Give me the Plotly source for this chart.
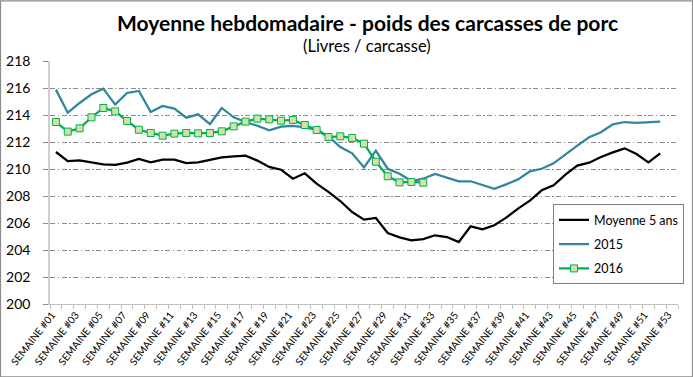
import plotly.graph_objects as go

week_labels = ["SEMAINE #%02d" % i for i in range(1, 54)]
week_pos = list(range(1, 54))

moyenne_5ans = [211.26, 210.59, 210.64, 210.47, 210.35, 210.30, 210.47, 210.74, 210.49, 210.69,
                210.69, 210.44, 210.49, 210.67, 210.86, 210.94, 210.99, 210.62, 210.15, 209.95,
                209.28, 209.68, 208.91, 208.30, 207.63, 206.81, 206.25, 206.37, 205.26, 204.94,
                204.72, 204.81, 205.09, 204.96, 204.59, 205.75, 205.53, 205.83, 206.40, 207.06,
                207.65, 208.42, 208.79, 209.58, 210.25, 210.47, 210.89, 211.23, 211.53, 211.11,
                210.49, 211.16]
serie_2015 = [215.88, 214.17, 214.89, 215.53, 215.95, 214.77, 215.63, 215.78, 214.22, 214.67,
              214.47, 213.80, 214.05, 213.33, 214.52, 213.83, 213.48, 213.20, 212.86, 213.14,
              213.19, 213.09, 212.91, 212.42, 211.63, 211.16, 210.12, 211.36, 210.02, 209.65,
              209.11, 209.28, 209.63, 209.36, 209.09, 209.09, 208.79, 208.54, 208.86, 209.23,
              209.83, 210.02, 210.42, 211.09, 211.73, 212.35, 212.72, 213.31, 213.48, 213.41,
              213.46, 213.51]
serie_2016 = [213.48, 212.77, 213.01, 213.83, 214.52, 214.27, 213.56, 212.91, 212.67, 212.47,
              212.62, 212.67, 212.64, 212.67, 212.79, 213.16, 213.51, 213.73, 213.68, 213.58,
              213.63, 213.26, 212.89, 212.37, 212.42, 212.30, 211.88, 210.54, 209.46, 209.01,
              209.04, 208.99]
y_ticks = [200, 202, 204, 206, 208, 210, 212, 214, 216, 218]

FONT = "Lato"
L, R, T, B = 50, 15, 60.7, 73.3
W, H = 693, 377
pw, ph = W - L - R, H - T - B

fig = go.Figure()
fig.add_trace(go.Scatter(x=week_pos[:len(moyenne_5ans)], y=moyenne_5ans, mode="lines",
                         name="Moyenne 5 ans", legendgroup="a",
                         line=dict(color="#000000", width=2.25)))
fig.add_trace(go.Scatter(x=week_pos[:len(serie_2015)], y=serie_2015, mode="lines",
                         name="2015", legendgroup="b",
                         line=dict(color="#31859C", width=2.25)))
fig.add_trace(go.Scatter(x=week_pos[:len(serie_2016)], y=serie_2016, mode="lines+markers",
                         name="2016", legendgroup="c",
                         line=dict(color="#00B050", width=2.25),
                         marker=dict(symbol="square", size=7, color="#D2E1A8",
                                     line=dict(color="#00B050", width=1))))

fig.update_layout(
    width=W, height=H,
    margin=dict(l=L, r=R, t=T, b=B, autoexpand=False),
    paper_bgcolor="white", plot_bgcolor="white",
    font=dict(family=FONT, color="#000000"),
    showlegend=True,
    legend=dict(x=(553 - L) / pw, y=(H - B - 204) / ph, xanchor="left", yanchor="top",
                bordercolor="#808080", borderwidth=1, bgcolor="white",
                font=dict(size=12.5, family=FONT), tracegroupgap=5),
    xaxis=dict(range=[0.5, 53.5], tickvals=week_pos[::2], ticktext=week_labels[::2],
               tickangle=-52, tickfont=dict(size=10.2, family=FONT), ticklabelshift=-4,
               automargin=False,
               showgrid=False, zeroline=False, showline=True, linecolor="#BFBFBF", linewidth=1,
               ticks="", minor=dict(ticks="outside", tick0=0.5, dtick=1, ticklen=4,
                                    tickcolor="#BFBFBF", showgrid=False)),
    yaxis=dict(range=[200, 218], tickvals=y_ticks, tickfont=dict(size=14, family=FONT),
               automargin=False,
               showgrid=True, gridcolor="#8C8C8C", gridwidth=1, griddash="5px,2.5px,1.5px,2.5px",
               zeroline=False, showline=True, linecolor="#D0D0D0", linewidth=1.5,
               ticks="outside", ticklen=5, tickcolor="#8C8C8C", ticklabelstandoff=10),
    shapes=[dict(type="rect", xref="paper", yref="paper",
                 x0=(0.5 - L) / pw, x1=(W - 0.5 - L) / pw,
                 y0=-(B - 0.5) / ph, y1=(H - B - 0.5) / ph,
                 line=dict(color="#8C8C8C", width=1.2))],
    annotations=[
        dict(text="<b>Moyenne hebdomadaire - poids des carcasses de porc</b>",
             xref="paper", yref="paper", x=(367 - L) / pw, y=(H - B - 22) / ph,
             xanchor="center", yanchor="middle", showarrow=False,
             font=dict(size=21, family=FONT, color="#000000")),
        dict(text="(Livres / carcasse)",
             xref="paper", yref="paper", x=(367 - L) / pw, y=(H - B - 46) / ph,
             xanchor="center", yanchor="middle", showarrow=False,
             font=dict(size=16.5, family=FONT, color="#000000")),
    ],
)

fig.write_html("out.html", config={"displayModeBar": False},
               post_script="document.body.style.margin='0';")
